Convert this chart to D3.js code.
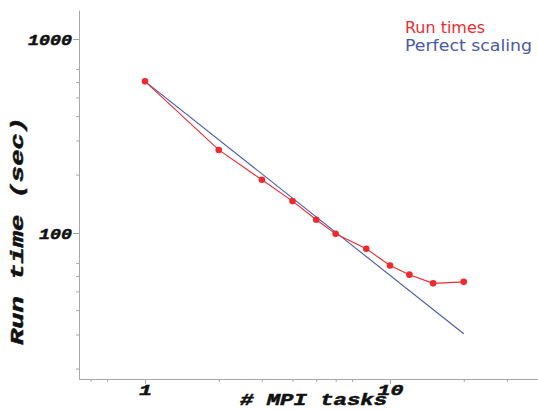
<!DOCTYPE html>
<html>
<head>
<meta charset="utf-8">
<script src="https://cdn.jsdelivr.net/npm/d3@7"></script>
<style>
  html, body { margin: 0; padding: 0; background: #fff; }
  svg { display: block; }
</style>
</head>
<body>
<svg id="chart" width="538" height="411"></svg>
<script>
// ---- data ----
const tasks = [1, 2, 3, 4, 5, 6, 8, 10, 12, 15, 20];
const runTimes = [605, 268, 188, 146, 117, 99, 83, 68, 61, 55, 56];
const perfectTasks = [1, 20];
const perfectTimes = [605, 30.25];
const xMajorTicks = [1, 10];
const xMinorTicks = [0.6, 0.7, 2, 3, 4, 5, 6, 7, 20, 30];
const yMajorTicks = [100, 1000];
const yMinorTicks = [20, 30, 40, 50, 60, 70, 200, 300, 400, 500, 600, 700];
const seriesNames = ["Run times", "Perfect scaling"];
const xTitle = "# MPI tasks";
const yTitle = "Run time (sec)";

// ---- layout ----
const red = "#ee2a30", blue = "#4a58a8", axisCol = "#a8a8a8";
const svg = d3.select("#chart");

const x = d3.scaleLog().domain([1, 10]).range([145, 390]);
x.domain([x.invert(79), x.invert(538)]).range([79, 538]);
const y = d3.scaleLog().domain([100, 1000]).range([233, 39]);
y.domain([y.invert(379), y.invert(10)]).range([379, 10]);

const labelFont = "'Liberation Mono', 'Courier New', monospace";

function boldLabel(sel, size) {
  sel.attr("font-family", labelFont).attr("font-weight", "bold").attr("font-style", "italic")
    .attr("font-size", size).attr("fill", "#111")
    .attr("stroke", "#111").attr("stroke-width", 0.5);
}

// x axis
const gx = svg.append("g").attr("transform", "translate(0,379)");
gx.call(d3.axisBottom(x).tickValues(xMinorTicks).tickSize(3).tickSizeOuter(0).tickFormat(""));
const gxMaj = svg.append("g").attr("transform", "translate(0,379)");
gxMaj.call(d3.axisBottom(x).tickValues(xMajorTicks).tickSize(5).tickSizeOuter(0).tickFormat(d3.format("d")));
gxMaj.select(".domain").remove();

// y axis
const gy = svg.append("g").attr("transform", "translate(79,0)");
gy.call(d3.axisLeft(y).tickValues(yMinorTicks).tickSize(3).tickSizeOuter(0).tickFormat(""));
const gyMaj = svg.append("g").attr("transform", "translate(79,0)");
gyMaj.call(d3.axisLeft(y).tickValues(yMajorTicks).tickSize(6).tickSizeOuter(0).tickFormat(d3.format("d")));
gyMaj.select(".domain").remove();

svg.selectAll(".domain, .tick line").attr("stroke", axisCol).attr("stroke-width", 1);

gxMaj.selectAll(".tick text")
  .attr("y", 16).attr("dy", 0)
  .call(boldLabel, 15)
  .each(function(d) { const s = String(d); d3.select(this).attr("textLength", s.length * 13).attr("lengthAdjust", "spacingAndGlyphs"); });

gyMaj.selectAll(".tick text")
  .attr("x", -7).attr("dy", "0.34em")
  .call(boldLabel, 15)
  .each(function(d) { const s = String(d); d3.select(this).attr("textLength", s.length * 11).attr("lengthAdjust", "spacingAndGlyphs"); });

// axis titles
svg.append("text")
  .attr("x", 240).attr("y", 405)
  .call(boldLabel, 16)
  .attr("textLength", 147).attr("lengthAdjust", "spacingAndGlyphs")
  .text(xTitle);

svg.append("text")
  .attr("transform", "translate(23,231) rotate(-90)")
  .attr("text-anchor", "middle")
  .call(boldLabel, 18)
  .attr("textLength", 228).attr("lengthAdjust", "spacingAndGlyphs")
  .text(yTitle);

// perfect scaling line
const line = d3.line().x(d => x(d[0])).y(d => y(d[1]));
svg.append("path")
  .datum(perfectTasks.map((t, i) => [t, perfectTimes[i]]))
  .attr("d", line).attr("fill", "none").attr("stroke", blue).attr("stroke-width", 1.1);

// run times line + points
const runData = tasks.map((t, i) => [t, runTimes[i]]);
svg.append("path")
  .datum(runData)
  .attr("d", line).attr("fill", "none").attr("stroke", red).attr("stroke-width", 1.1);
svg.append("g").selectAll("circle").data(runData).join("circle")
  .attr("cx", d => x(d[0])).attr("cy", d => y(d[1])).attr("r", 3.3)
  .attr("fill", red);

// legend
const legendFont = "'DejaVu Sans', 'Noto Sans', sans-serif";
const legendColors = [red, blue];
const legendWidths = [80, 127];
svg.append("g").selectAll("text").data(seriesNames).join("text")
  .attr("x", 405).attr("y", (d, i) => 33 + i * 18)
  .attr("font-family", legendFont).attr("font-size", 15)
  .attr("fill", (d, i) => legendColors[i])
  .attr("textLength", (d, i) => legendWidths[i]).attr("lengthAdjust", "spacingAndGlyphs")
  .text(d => d);
</script>
</body>
</html>
